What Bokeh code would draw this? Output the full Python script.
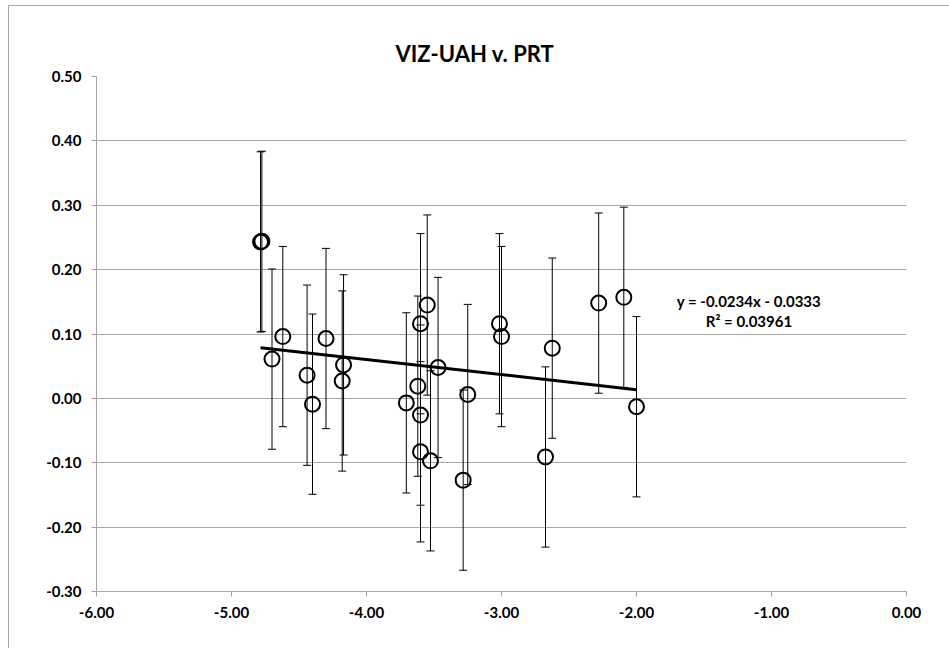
from bokeh.plotting import figure
from bokeh.models import ColumnDataSource, Whisker, TeeHead, FixedTicker, NumeralTickFormatter, Label
from bokeh.embed import file_html
from bokeh.resources import INLINE

# ---- data ----
prt = [-4.785, -4.775, -4.70, -4.62, -4.44, -4.40, -4.30, -4.17, -4.18, -3.705,
       -3.62, -3.60, -3.60, -3.60, -3.55, -3.526, -3.47, -3.284, -3.25, -3.015,
       -3.00, -2.674, -2.624, -2.28, -2.094, -2.00]
viz_uah = [0.243, 0.244, 0.061, 0.096, 0.036, -0.009, 0.093, 0.052, 0.027, -0.007,
           0.019, 0.116, -0.026, -0.083, 0.145, -0.097, 0.048, -0.127, 0.006, 0.116,
           0.096, -0.091, 0.078, 0.148, 0.157, -0.013]
err = [0.14] * len(prt)
slope = -0.0234
intercept = -0.0333
r_squared = 0.03961
x_ticks = [-6, -5, -4, -3, -2, -1, 0]
y_ticks = [-0.3, -0.2, -0.1, 0.0, 0.1, 0.2, 0.3, 0.4, 0.5]
title_text = "VIZ-UAH v. PRT"

FONT = "Lato"
GRID = "#a6a6a6"

src = ColumnDataSource(dict(
    x=prt, y=viz_uah,
    upper=[v + e for v, e in zip(viz_uah, err)],
    lower=[v - e for v, e in zip(viz_uah, err)],
))

p = figure(width=941, height=643, x_range=(-6, 0), y_range=(-0.3, 0.5),
           output_backend="svg", toolbar_location=None,
           min_border_left=87, min_border_right=44, min_border_top=70, min_border_bottom=58,
           margin=(5, 0, 0, 8), title=title_text)
p.styles = {"border-left": "1px solid #a6a6a6", "border-top": "1px solid #a6a6a6"}
p.outline_line_color = None
p.background_fill_color = "white"
p.border_fill_color = "white"

p.title.align = "left"
p.title.offset = 299
p.title.standoff = 20
p.title.text_font = FONT
p.title.text_font_style = "bold"
p.title.text_font_size = "22px"
p.title.text_color = "black"

# error bars
wh = Whisker(source=src, base="x", upper="upper", lower="lower",
             line_color="black", line_width=1,
             upper_head=TeeHead(size=8, line_color="black", line_width=1),
             lower_head=TeeHead(size=8, line_color="black", line_width=1))
p.add_layout(wh)

# trend line
x0, x1 = min(prt), max(prt)
p.line([x0, x1], [slope * x0 + intercept, slope * x1 + intercept],
       line_color="black", line_width=3)

# markers
p.scatter("x", "y", source=src, size=15, marker="circle",
          fill_color=None, line_color="black", line_width=2)

# axes
p.xaxis.ticker = FixedTicker(ticks=x_ticks)
p.yaxis.ticker = FixedTicker(ticks=y_ticks)
p.xaxis.formatter = NumeralTickFormatter(format="0.00")
p.yaxis.formatter = NumeralTickFormatter(format="0.00")
for ax in (p.xaxis, p.yaxis):
    ax.axis_line_color = GRID
    ax.major_tick_line_color = GRID
    ax.major_tick_in = 0
    ax.major_tick_out = 5
    ax.minor_tick_line_color = None
    ax.major_label_text_font = FONT
    ax.major_label_text_font_style = "bold"
    ax.major_label_text_font_size = "15px"
    ax.major_label_text_color = "black"
p.xaxis.major_label_standoff = 10
p.yaxis.major_label_standoff = 10
p.xgrid.grid_line_color = None
p.ygrid.grid_line_color = GRID
p.ygrid.grid_line_width = 1

# equation
sign = "-" if intercept < 0 else "+"
eq = f"y = {slope:.4f}x {sign} {abs(intercept):.4f}"
p.add_layout(Label(x=-1.167, y=0.1506, text=eq, text_align="center",
                   text_baseline="middle", text_font=FONT, text_font_style="bold",
                   text_font_size="15px", text_color="black"))
p.add_layout(Label(x=-1.167, y=0.1197, text=f"R\u00b2 = {r_squared}", text_align="center",
                   text_baseline="middle", text_font=FONT, text_font_style="bold",
                   text_font_size="15px", text_color="black"))

open("out.html", "w").write(file_html(p, INLINE))
